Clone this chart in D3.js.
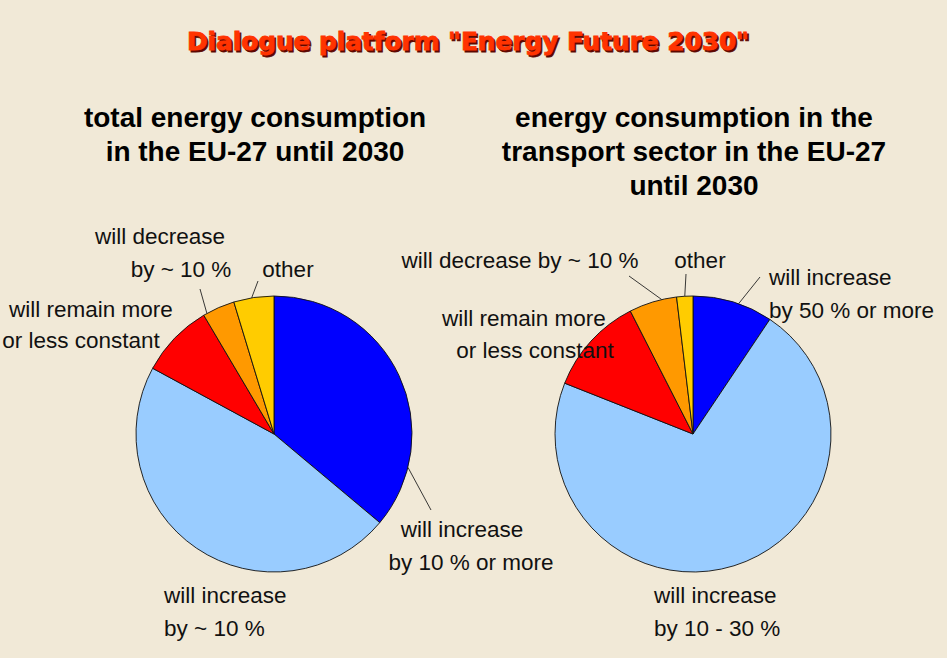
<!DOCTYPE html>
<html>
<head>
<meta charset="utf-8">
<script src="https://cdn.jsdelivr.net/npm/d3@7"></script>
<style>
  body { margin: 0; background: #f1e9d7; }
  svg { display: block; }
  .lbl { font-family: "Liberation Sans", Arial, sans-serif; font-size: 22.5px; fill: #111; }
  .sub { font-family: "Liberation Sans", Arial, sans-serif; font-size: 28px; font-weight: bold; fill: #000; }
</style>
</head>
<body>
<div id="chart"></div>
<script>

//************************  data *************************

var categories = ["will increase by 10 % or more", "will increase by ~ 10 %",
    "will remain more or less constant", "will decrease by ~ 10 %", "other"];
var totalValues = [36.1, 46.8, 8.6, 3.8, 4.7];
var transportValues = [9.4, 71.6, 11.5, 5.6, 1.9];
var sliceColors = ["#0000ff", "#99ccff", "#ff0000", "#ff9900", "#ffcc00"];

var titleText = 'Dialogue platform "Energy Future 2030"';
var totalTitle = ["total energy consumption", "in the EU-27 until 2030"];
var transportTitle = ["energy consumption in the", "transport sector in the EU-27", "until 2030"];

// label lines for each pie (text, x, y, anchor)
var totalLabels = [
    ["will decrease", 160, 244, "middle"],
    ["by ~ 10 %", 181, 277, "middle"],
    ["other", 288, 277, "middle"],
    ["will remain more", 91, 317, "middle"],
    ["or less constant", 81, 348, "middle"],
    ["will increase", 462, 537, "middle"],
    ["by 10 % or more", 471, 570, "middle"],
    ["will increase", 164, 603, "start"],
    ["by ~ 10 %", 164, 636, "start"]
];
var transportLabels = [
    ["will decrease by ~ 10 %", 520, 268, "middle"],
    ["other", 700, 268, "middle"],
    ["will increase", 769, 285, "start"],
    ["by 50 % or more", 769, 318, "start"],
    ["will remain more", 524, 326, "middle"],
    ["or less constant", 535, 358, "middle"],
    ["will increase", 654, 603, "start"],
    ["by 10 - 30 %", 654, 636, "start"]
];

// leader lines: slice index, position along slice, end point
var totalLeaders = [[0, 0.8, 431, 510], [3, 0.11, 200, 289], [4, 0.45, 258, 281]];
var transportLeaders = [[0, 0.57, 760, 277], [3, 0.69, 629, 276], [4, 0.5, 686, 274]];


//************************  draw *************************

var width = 947, height = 658, radius = 138;

var svg = d3.select("#chart").append("svg")
    .attr("width", width)
    .attr("height", height);

svg.append("rect")
    .attr("width", width)
    .attr("height", height)
    .attr("fill", "#f1e9d7");

// title with shadow
var titleFont = "'DejaVu Sans', 'Liberation Sans', sans-serif";
[["#5e0800", 1.8], ["#ff3300", 0]].forEach(function(t){
    svg.append("text")
        .attr("x", 468 + t[1])
        .attr("y", 50 + t[1])
        .attr("text-anchor", "middle")
        .attr("textLength", 562)
        .attr("lengthAdjust", "spacingAndGlyphs")
        .style("font-family", titleFont)
        .style("font-size", "25px")
        .style("font-weight", "bold")
        .attr("fill", t[0])
        .attr("stroke", t[0])
        .attr("stroke-width", 0.8)
        .text(titleText);
});

var color = d3.scaleOrdinal()
    .domain(categories)
    .range(sliceColors);

var pie = d3.pie().sort(null).value(function(d){ return d.value; });
var arc = d3.arc().innerRadius(0).outerRadius(radius);

function drawPie(cx, cy, values, subTitle, subX, labels, leaders) {
    var data = categories.map(function(c, i){ return {name: c, value: values[i]}; });
    var arcs = pie(data);

    var g = svg.append("g")
        .attr("transform", "translate(" + cx + "," + cy + ")");

    g.selectAll(".slice")
        .data(arcs)
        .enter().append("path")
        .attr("class", "slice")
        .attr("d", arc)
        .attr("fill", function(d){ return color(d.data.name); })
        .attr("stroke", "#111")
        .attr("stroke-width", 0.9);

    // leader lines
    svg.selectAll(null)
        .data(leaders)
        .enter().append("line")
        .attr("x1", function(l){
            var a = arcs[l[0]];
            return cx + d3.pointRadial(a.startAngle + l[1] * (a.endAngle - a.startAngle), radius)[0];
        })
        .attr("y1", function(l){
            var a = arcs[l[0]];
            return cy + d3.pointRadial(a.startAngle + l[1] * (a.endAngle - a.startAngle), radius)[1];
        })
        .attr("x2", function(l){ return l[2]; })
        .attr("y2", function(l){ return l[3]; })
        .attr("stroke", "#222")
        .attr("stroke-width", 0.9);

    svg.selectAll(null)
        .data(subTitle)
        .enter().append("text")
        .attr("class", "sub")
        .attr("x", subX)
        .attr("y", function(d, i){ return 127 + i * 34; })
        .attr("text-anchor", "middle")
        .text(function(d){ return d; });

    svg.selectAll(null)
        .data(labels)
        .enter().append("text")
        .attr("class", "lbl")
        .attr("x", function(d){ return d[1]; })
        .attr("y", function(d){ return d[2]; })
        .attr("text-anchor", function(d){ return d[3]; })
        .text(function(d){ return d[0]; });
}

drawPie(274, 434, totalValues, totalTitle, 255, totalLabels, totalLeaders);
drawPie(693, 434, transportValues, transportTitle, 694, transportLabels, transportLeaders);

</script>
</body>
</html>
